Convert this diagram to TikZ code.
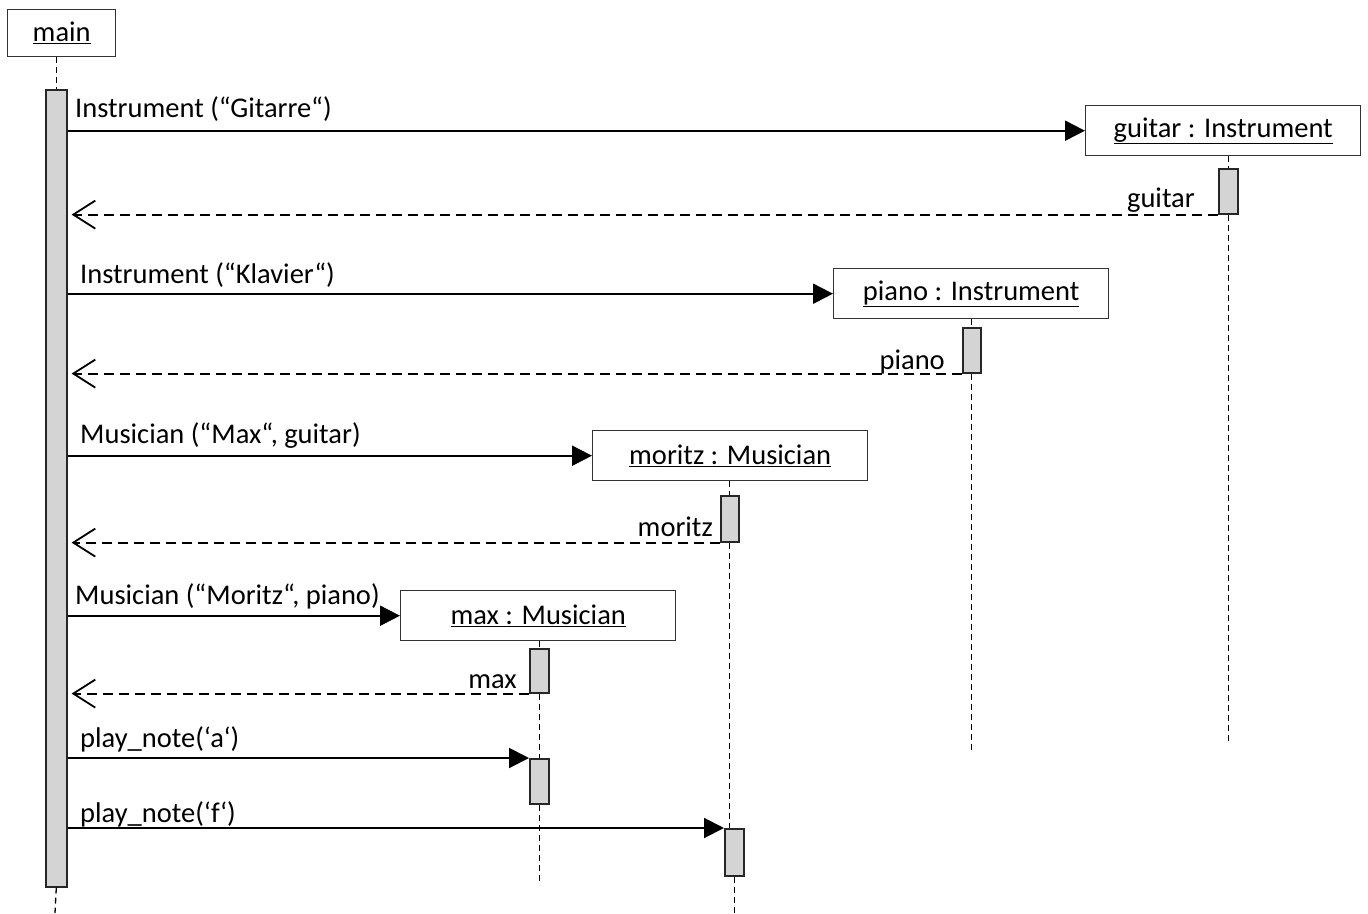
\documentclass[tikz,border=0pt]{standalone}
\usepackage{fontspec}
\setmainfont{Carlito}
\usetikzlibrary{arrows.meta}
\begin{document}
\begin{tikzpicture}[x=1pt,y=-1pt,
  txt/.style={font=\fontsize{28.5}{32}\selectfont},
  obj/.style={txt,draw=black!80,line width=1.4pt,fill=white,minimum width=275pt,minimum height=50pt,inner sep=0pt,anchor=north west},
  act/.style={draw=black!85,line width=1.6pt,fill=black!17,inner sep=0pt,anchor=north west},
  life/.style={line width=1.3pt,dash pattern=on 6pt off 4pt},
  msg/.style={line width=2pt,-{Triangle[length=20pt,width=20pt]}},
  ret/.style={line width=2pt,dash pattern=on 10pt off 6pt,-{Straight Barb[length=22pt,width=28pt,line width=1.8pt]}},
  lbl/.style={txt,inner sep=0pt,anchor=base west},
  rlbl/.style={txt,inner sep=0pt,anchor=base east}]
\useasboundingbox (0,0) rectangle (1368,913);
% objects
\node[obj,minimum width=108pt,minimum height=47pt] (main) at (7,9) {\underline{main}};
\node[obj] (guitar) at (1085,105) {\underline{guitar : Instrument}};
\node[obj] (piano) at (833,268) {\underline{piano : Instrument}};
\node[obj] (moritz) at (592,430) {\underline{moritz : Musician}};
\node[obj] (max) at (400,590) {\underline{max : Musician}};
% activations
\node[act,minimum width=21pt,minimum height=797pt] (ma) at (45,89) {};
\node[act,minimum width=19pt,minimum height=45pt] (ga) at (1218,168) {};
\node[act,minimum width=18pt,minimum height=45pt] (pa) at (962,327) {};
\node[act,minimum width=18pt,minimum height=46pt] (mo1) at (720,495) {};
\node[act,minimum width=19pt,minimum height=47pt] (mo2) at (724,828) {};
\node[act,minimum width=19pt,minimum height=44pt] (mx1) at (529,648) {};
\node[act,minimum width=19pt,minimum height=45pt] (mx2) at (529,758) {};
% lifelines
\coordinate (mainend) at (55,913);
\draw[life] (ma.north |- main.south) -- (ma.north);
\draw[life] (ma.south) -- (mainend);
\draw[life] (ga.north |- guitar.south) -- (ga.north);
\draw[life] (ga.south) -- ++(0,527);
\draw[life] (pa.north |- piano.south) -- (pa.north);
\draw[life] (pa.south) -- ++(0,376);
\draw[life] (mo1.north |- moritz.south) -- (mo1.north);
\draw[life] (mo1.south) -- (mo1.south |- mo2.north);
\draw[life] (mo2.south) -- ++(0,38);
\draw[life] (mx1.north |- max.south) -- (mx1.north);
\draw[life] (mx1.south) -- (mx2.north);
\draw[life] (mx2.south) -- ++(0,77);
% messages
\draw[msg] (ma.east |- guitar.west) -- (guitar.west);
\draw[ret] (ga.south west) -- ([xshift=4pt]ma.east |- ga.south west);
\draw[msg] (ma.east |- piano.west) -- (piano.west);
\draw[ret] (pa.south west) -- ([xshift=4pt]ma.east |- pa.south west);
\draw[msg] (ma.east |- moritz.west) -- (moritz.west);
\draw[ret] (mo1.south west) -- ([xshift=4pt]ma.east |- mo1.south west);
\draw[msg] (ma.east |- max.west) -- (max.west);
\draw[ret] (mx1.south west) -- ([xshift=4pt]ma.east |- mx1.south west);
\draw[msg] (ma.east |- mx2.north west) -- (mx2.north west);
\draw[msg] (ma.east |- mo2.north west) -- (mo2.north west);
% labels
\node[lbl] (l1) at (75,117) {Instrument (“Gitarre“)};
\node[rlbl] (r1) at (1195,207) {guitar};
\node[lbl] (l2) at (80,283) {Instrument (“Klavier“)};
\node[rlbl] (r2) at (945,369) {piano};
\node[lbl] (l3) at (80,443) {Musician (“Max“, guitar)};
\node[rlbl] (r3) at (713,536) {moritz};
\node[lbl] (l4) at (75,604) {Musician (“Moritz“, piano)};
\node[rlbl] (r4) at (517,688) {max};
\node[lbl] (l5) at (80,747) {play\_note(‘a‘)};
\node[lbl] (l6) at (80,822) {play\_note(‘f‘)};
\end{tikzpicture}
\end{document}
